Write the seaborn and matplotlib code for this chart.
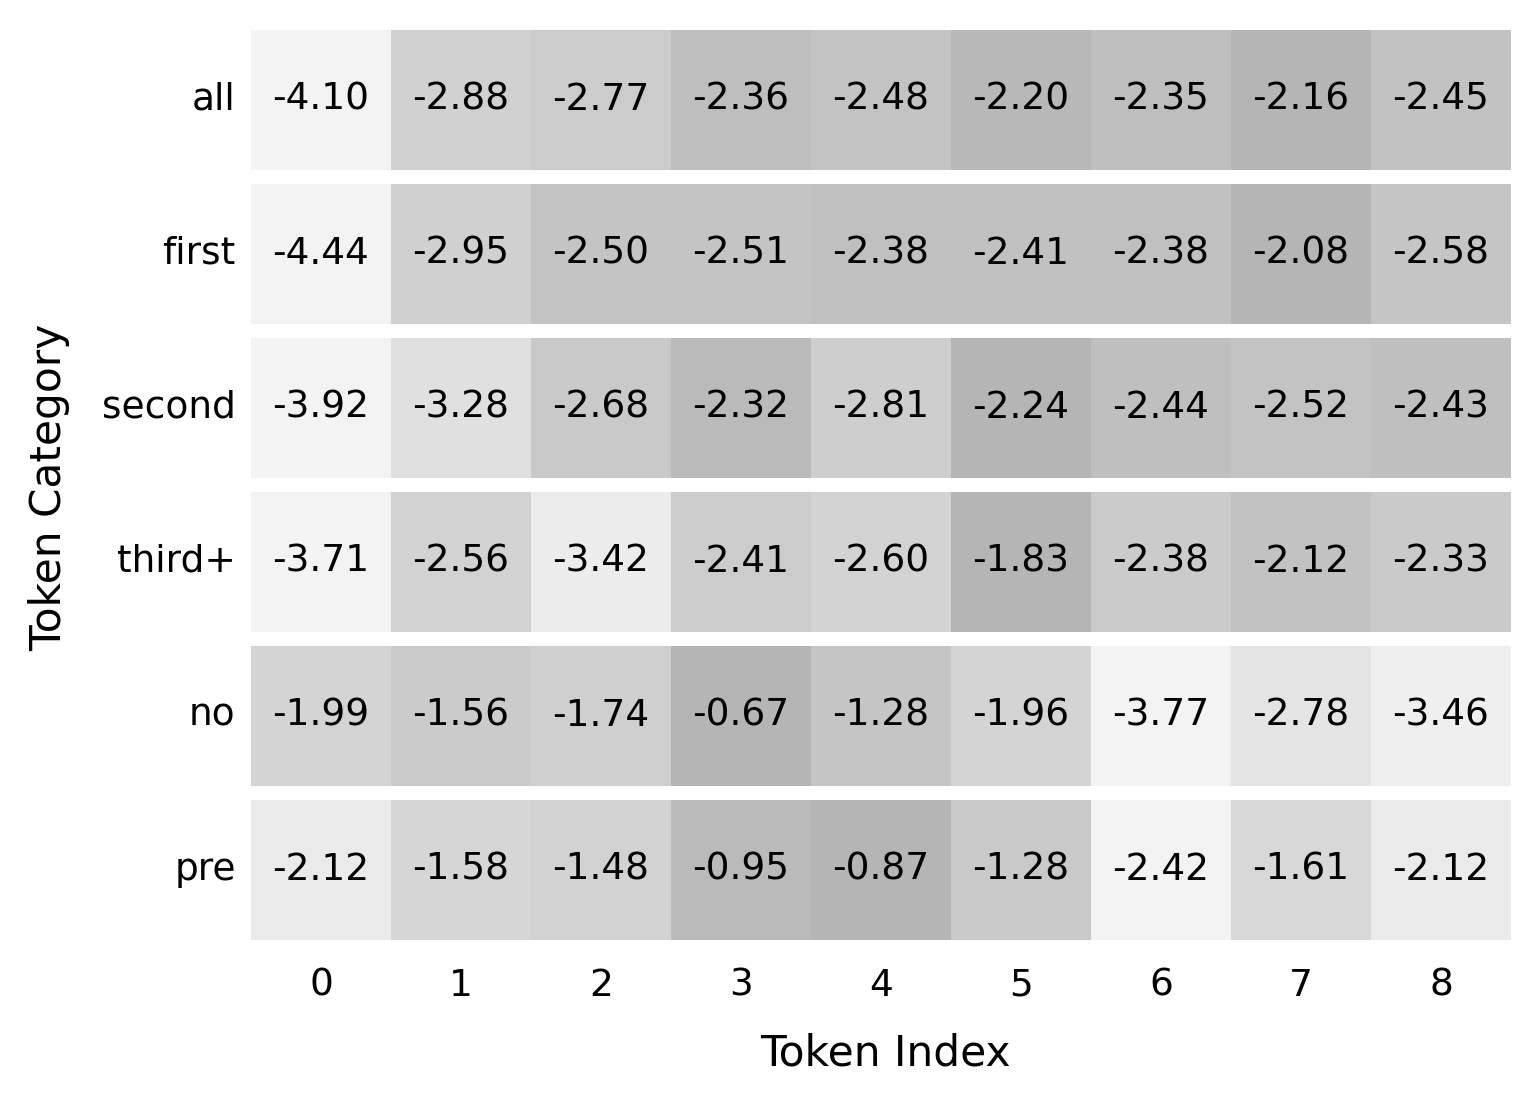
import numpy as np
import pandas as pd
import matplotlib
matplotlib.use("Agg")
import matplotlib.pyplot as plt
from matplotlib.colors import ListedColormap
import seaborn as sns

categories = ["all", "first", "second", "third+", "no", "pre"]
token_index = ["0", "1", "2", "3", "4", "5", "6", "7", "8"]
row_all = [-4.10, -2.88, -2.77, -2.36, -2.48, -2.20, -2.35, -2.16, -2.45]
row_first = [-4.44, -2.95, -2.50, -2.51, -2.38, -2.41, -2.38, -2.08, -2.58]
row_second = [-3.92, -3.28, -2.68, -2.32, -2.81, -2.24, -2.44, -2.52, -2.43]
row_third = [-3.71, -2.56, -3.42, -2.41, -2.60, -1.83, -2.38, -2.12, -2.33]
row_no = [-1.99, -1.56, -1.74, -0.67, -1.28, -1.96, -3.77, -2.78, -3.46]
row_pre = [-2.12, -1.58, -1.48, -0.95, -0.87, -1.28, -2.42, -1.61, -2.12]
rows = [row_all, row_first, row_second, row_third, row_no, row_pre]

sns.set_style("white")
plt.rcParams['font.family'] = ['DejaVu Sans']
plt.rcParams['text.color'] = 'black'
plt.rcParams['xtick.color'] = 'black'
plt.rcParams['ytick.color'] = 'black'

cmap = ListedColormap(plt.get_cmap("Greys")(np.linspace(0.10, 0.40, 256)))

W, H, DPI = 1540, 1107, 200
fig = plt.figure(figsize=(W / DPI, H / DPI), dpi=DPI)
gs = fig.add_gridspec(len(rows), 1, left=251 / W, right=1511 / W,
                      top=1 - 30 / H, bottom=1 - 940 / H, hspace=0.1)

fs = 13.5
for i, (cat, vals) in enumerate(zip(categories, rows)):
    ax = fig.add_subplot(gs[i, 0])
    df = pd.DataFrame([vals], index=[cat], columns=token_index)
    sns.heatmap(df, ax=ax, cmap=cmap, vmin=min(vals), vmax=max(vals),
                annot=True, fmt=".2f", cbar=False,
                annot_kws={"fontsize": fs, "color": "black"})
    ax.set_ylabel("")
    ax.set_xlabel("")
    ax.tick_params(axis="y", length=0, pad=5.5, labelsize=fs, rotation=0,
                   labelcolor="black")
    if i < len(rows) - 1:
        ax.set_xticks([])
    else:
        ax.tick_params(axis="x", length=0, pad=10, labelsize=fs, rotation=0,
                       labelcolor="black")
    for s in ax.spines.values():
        s.set_visible(False)

fig.text(885 / W, 1 - 1053 / H, "Token Index", ha="center", va="center",
         fontsize=15.2, color="black")
fig.text(49 / W, 1 - 487 / H, "Token Category", ha="center", va="center",
         rotation=90, fontsize=15.2, color="black")

fig.savefig("out.png", dpi=DPI)
